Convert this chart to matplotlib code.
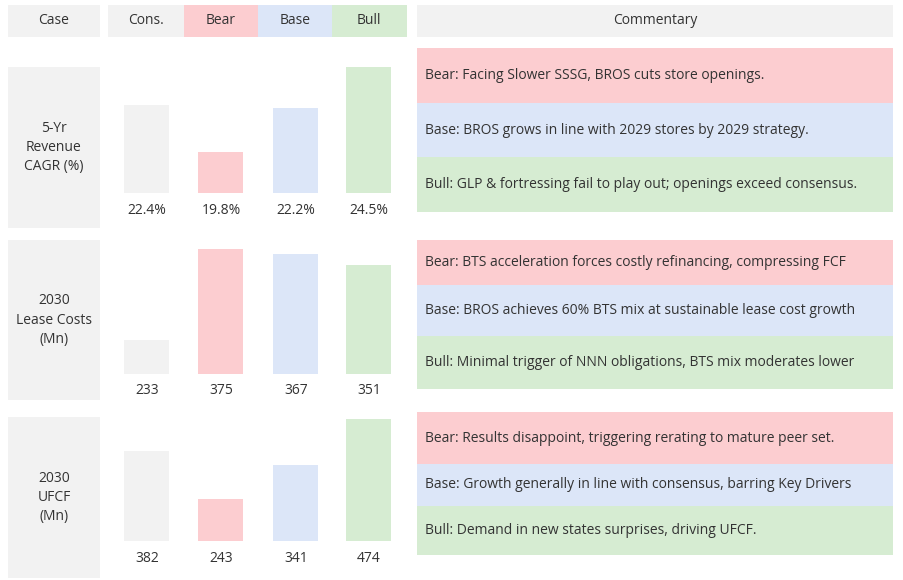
import matplotlib.pyplot as plt
from matplotlib.patches import Rectangle

plt.rcParams['font.family'] = ['Open Sans', 'DejaVu Sans']

W, H = 904, 580
GREY = '#f2f2f2'
RED = '#fccdd0'
BLUE = '#dce6f8'
GREEN = '#d6ecd2'

scenarios = ['Cons.', 'Bear', 'Base', 'Bull']
case_names = ['5-Yr\nRevenue\nCAGR (%)', '2030\nLease Costs\n(Mn)', '2030\nUFCF\n(Mn)']
cagr = [22.4, 19.8, 22.2, 24.5]
lease = [233, 375, 367, 351]
ufcf = [382, 243, 341, 474]
value_labels = [['22.4%', '19.8%', '22.2%', '24.5%'],
                ['233', '375', '367', '351'],
                ['382', '243', '341', '474']]
ybase = [17.5, 180, 121]
yscale = [18.0, 0.64, 0.345]  # px per unit

bear_text = ['Facing Slower SSSG, BROS cuts store openings.',
             'BTS acceleration forces costly refinancing, compressing FCF',
             'Results disappoint, triggering rerating to mature peer set.']
base_text = ['BROS grows in line with 2029 stores by 2029 strategy.',
             'BROS achieves 60% BTS mix at sustainable lease cost growth',
             'Growth generally in line with consensus, barring Key Drivers']
bull_text = ['GLP & fortressing fail to play out; openings exceed consensus.',
             'Minimal trigger of NNN obligations, BTS mix moderates lower',
             'Demand in new states surprises, driving UFCF.']

fig = plt.figure(figsize=(W / 100, H / 100), dpi=100)
bg = fig.add_axes([0, 0, 1, 1])
bg.set_xlim(0, W)
bg.set_ylim(H, 0)
bg.axis('off')


def box(x0, y0, x1, y1, c):
    bg.add_patch(Rectangle((x0, y0), x1 - x0, y1 - y0, color=c, lw=0))


# header
box(8, 5, 100, 37, GREY)
box(108, 5, 184, 37, GREY)
box(184, 5, 258, 37, RED)
box(258, 5, 332, 37, BLUE)
box(332, 5, 407, 37, GREEN)
box(417, 5, 893, 37, GREY)
hdr_x = [54, 146, 221, 295, 369]
for x, t in zip(hdr_x, ['Case'] + scenarios):
    bg.text(x, 21, t, ha='center', va='center', fontsize=10, color='#333333')
bg.text(655, 21, 'Commentary', ha='center', va='center', fontsize=10, color='#333333')

case_rows = [(67, 228), (240, 400), (417, 578)]
bar_bottom = [193, 374, 541]
label_y = [211, 391, 558]
comm_rows = [(48, 103, 157, 212), (240, 285, 336, 389), (412, 464, 506, 555)]
series = [cagr, lease, ufcf]
colors = [GREY, RED, BLUE, GREEN]
centers = [147, 221, 296, 369]

for i in range(3):
    y0, y1 = case_rows[i]
    box(8, y0, 100, y1, GREY)
    bg.text(54, (y0 + y1) / 2, case_names[i], ha='center', va='center',
            fontsize=10, color='#333333', linespacing=1.4)
    # bar axes: pixel region x 110-406, y from bar_bottom-140 to bar_bottom
    top_px = bar_bottom[i] - 140
    ax = fig.add_axes([110 / W, 1 - bar_bottom[i] / H, 296 / W, 140 / H])
    ax.set_xlim(110, 406)
    ax.set_ylim(ybase[i], ybase[i] + 140 / yscale[i])
    ax.axis('off')
    ax.bar(centers, series[i], width=45, bottom=0, color=colors, lw=0)
    for c, t in zip(centers, value_labels[i]):
        bg.text(c, label_y[i], t, ha='center', va='center', fontsize=10, color='#333333')
    a, b, c, d = comm_rows[i]
    for (s, e, col, lab, txt) in [(a, b, RED, 'Bear:', bear_text[i]),
                                  (b, c, BLUE, 'Base:', base_text[i]),
                                  (c, d, GREEN, 'Bull:', bull_text[i])]:
        box(417, s, 893, e, col)
        bg.text(425, (s + e) / 2, lab + ' ' + txt, ha='left', va='center',
                fontsize=10, color='#333333')

fig.savefig('out.png', dpi=100)
